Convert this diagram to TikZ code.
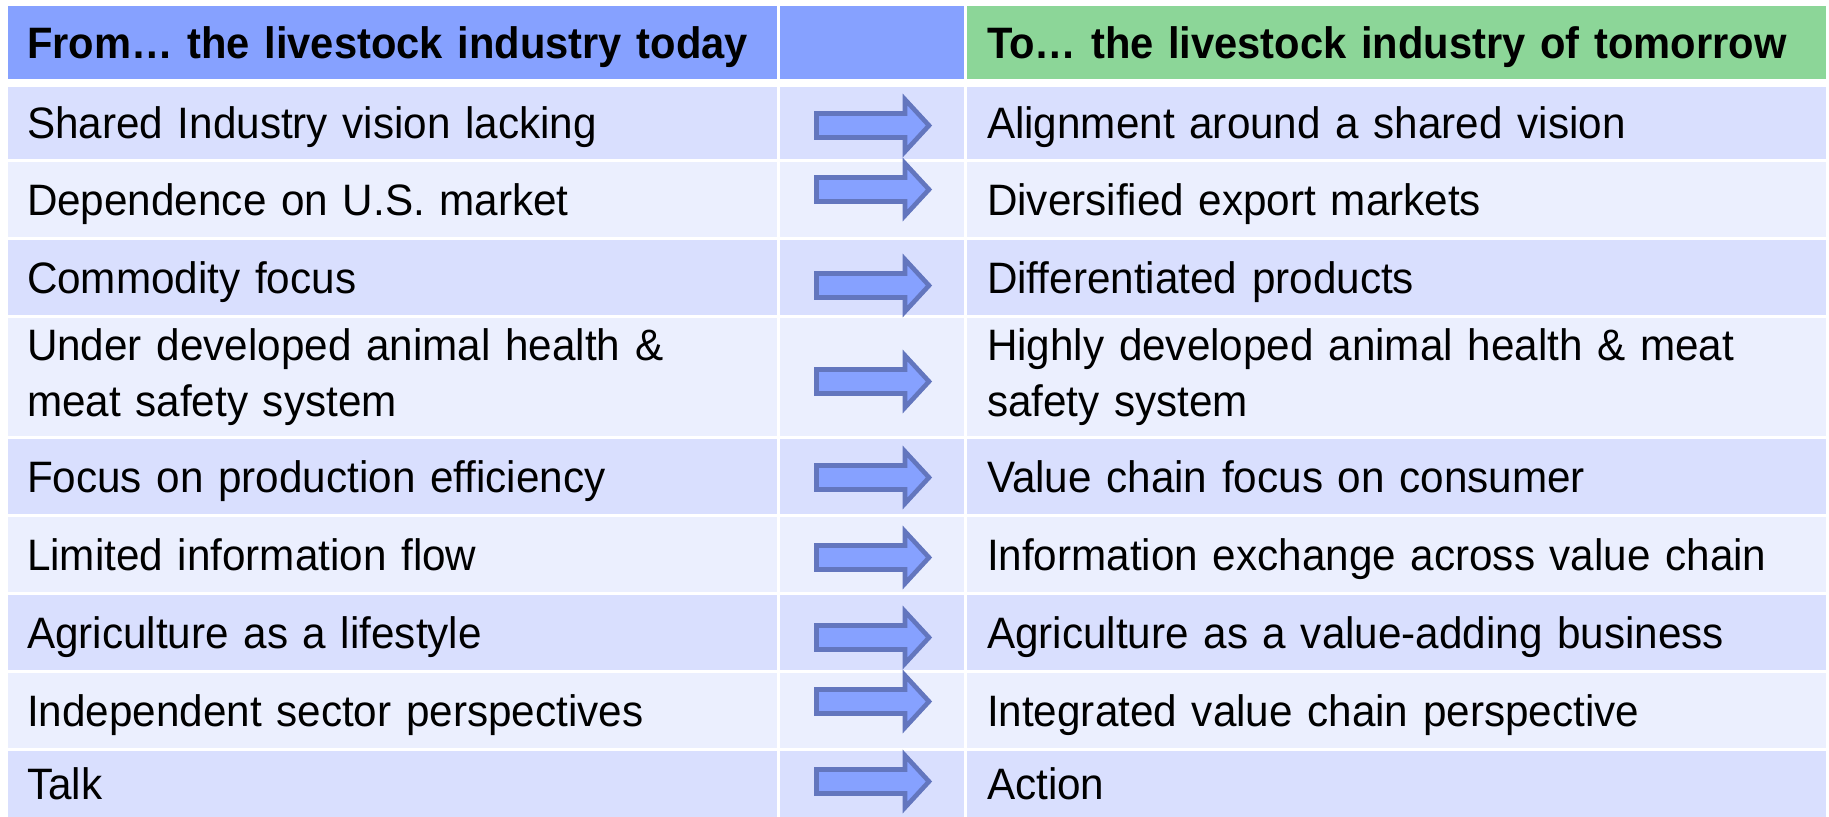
\documentclass[tikz,border=0pt]{standalone}
\usepackage{fontspec}
\setmainfont{Liberation Sans}[FakeStretch=0.96]
\newfontfamily\headfont{Liberation Sans}[FakeStretch=0.947]
\usetikzlibrary{positioning}
\definecolor{headblue}{RGB}{134,161,255}
\definecolor{headgreen}{RGB}{140,214,152}
\definecolor{rowdark}{RGB}{217,223,254}
\definecolor{rowlight}{RGB}{235,239,254}
\definecolor{arrowedge}{RGB}{99,118,190}
\begin{document}
\begin{tikzpicture}[x=0.5pt, y=-0.5pt, node distance=1.5pt]
        \tikzstyle{every node}=[rectangle, inner ysep=0pt, outer sep=0pt, font=\fontsize{22}{28}\selectfont]
        \tikzstyle{oneline}=[text height=16.5pt, text depth=0.75pt]
        \tikzstyle{fromcell}=[oneline, minimum width=384.5pt, text width=365.5pt, inner xsep=9.5pt, align=left]
        \tikzstyle{midcell}=[minimum width=92pt]
        \tikzstyle{tocell}=[oneline, minimum width=429.5pt, text width=409.5pt, inner xsep=10pt, align=left]
        \tikzstyle{headcell}=[minimum height=36.5pt, font=\fontsize{22}{28}\headfont\bfseries]
        \tikzstyle{twoline}=[text height={}, text depth={}]
        \tikzstyle{bigarrow}=[draw=arrowedge, fill=headblue, line width=2.3pt, line join=miter]
        \useasboundingbox (0,0) rectangle (1829,817);
        \node [fromcell, headcell, fill=headblue, anchor=north west] (h1) at (8,6) {From… the livestock industry today};
        \node [midcell, headcell, fill=headblue, right=of h1] (h2) {};
        \node [tocell, headcell, fill=headgreen, right=of h2] (h3) {To… the livestock industry of tomorrow};
        \node [fromcell, fill=rowdark, minimum height=36pt, below=4pt of h1] (l1) {Shared Industry vision lacking};
        \node [midcell, fill=rowdark, minimum height=36pt, right=of l1] (m1) {};
        \node [tocell, fill=rowdark, minimum height=36pt, right=of m1] (r1) {Alignment around a shared vision};
        \node [fromcell, fill=rowlight, minimum height=37.5pt, below=of l1] (l2) {Dependence on U.S. market};
        \node [midcell, fill=rowlight, minimum height=37.5pt, right=of l2] (m2) {};
        \node [tocell, fill=rowlight, minimum height=37.5pt, right=of m2] (r2) {Diversified export markets};
        \node [fromcell, fill=rowdark, minimum height=37.5pt, below=of l2] (l3) {Commodity focus};
        \node [midcell, fill=rowdark, minimum height=37.5pt, right=of l3] (m3) {};
        \node [tocell, fill=rowdark, minimum height=37.5pt, right=of m3] (r3) {Differentiated products};
        \node [fromcell, twoline, fill=rowlight, minimum height=59pt, below=of l3] (l4) {Under developed animal health \&\\meat safety system};
        \node [midcell, fill=rowlight, minimum height=59pt, right=of l4] (m4) {};
        \node [tocell, twoline, fill=rowlight, minimum height=59pt, right=of m4] (r4) {Highly developed animal health \& meat\\safety system};
        \node [fromcell, fill=rowdark, minimum height=37.5pt, below=of l4] (l5) {Focus on production efficiency};
        \node [midcell, fill=rowdark, minimum height=37.5pt, right=of l5] (m5) {};
        \node [tocell, fill=rowdark, minimum height=37.5pt, right=of m5] (r5) {Value chain focus on consumer};
        \node [fromcell, fill=rowlight, minimum height=37.5pt, below=of l5] (l6) {Limited information flow};
        \node [midcell, fill=rowlight, minimum height=37.5pt, right=of l6] (m6) {};
        \node [tocell, fill=rowlight, minimum height=37.5pt, right=of m6] (r6) {Information exchange across value chain};
        \node [fromcell, fill=rowdark, minimum height=37.5pt, below=of l6] (l7) {Agriculture as a lifestyle};
        \node [midcell, fill=rowdark, minimum height=37.5pt, right=of l7] (m7) {};
        \node [tocell, fill=rowdark, minimum height=37.5pt, right=of m7] (r7) {Agriculture as a value-adding business};
        \node [fromcell, fill=rowlight, minimum height=37.5pt, below=of l7] (l8) {Independent sector perspectives};
        \node [midcell, fill=rowlight, minimum height=37.5pt, right=of l8] (m8) {};
        \node [tocell, fill=rowlight, minimum height=37.5pt, right=of m8] (r8) {Integrated value chain perspective};
        \node [fromcell, fill=rowdark, minimum height=33pt, below=of l8] (l9) {Talk};
        \node [midcell, fill=rowdark, minimum height=33pt, right=of l9] (m9) {};
        \node [tocell, fill=rowdark, minimum height=33pt, right=of m9] (r9) {Action};
        \foreach \y in {125.5,189.5,285.5,381.5,477.5,557.5,637.5,701.5,781.5}
            \draw [bigarrow] (816.5,\y) ++(0,-12) -- ++(88.5,0) -- ++(0,-14) -- ++(24,26) -- ++(-24,26) -- ++(0,-14) -- ++(-88.5,0) -- cycle;
\end{tikzpicture}
\end{document}
